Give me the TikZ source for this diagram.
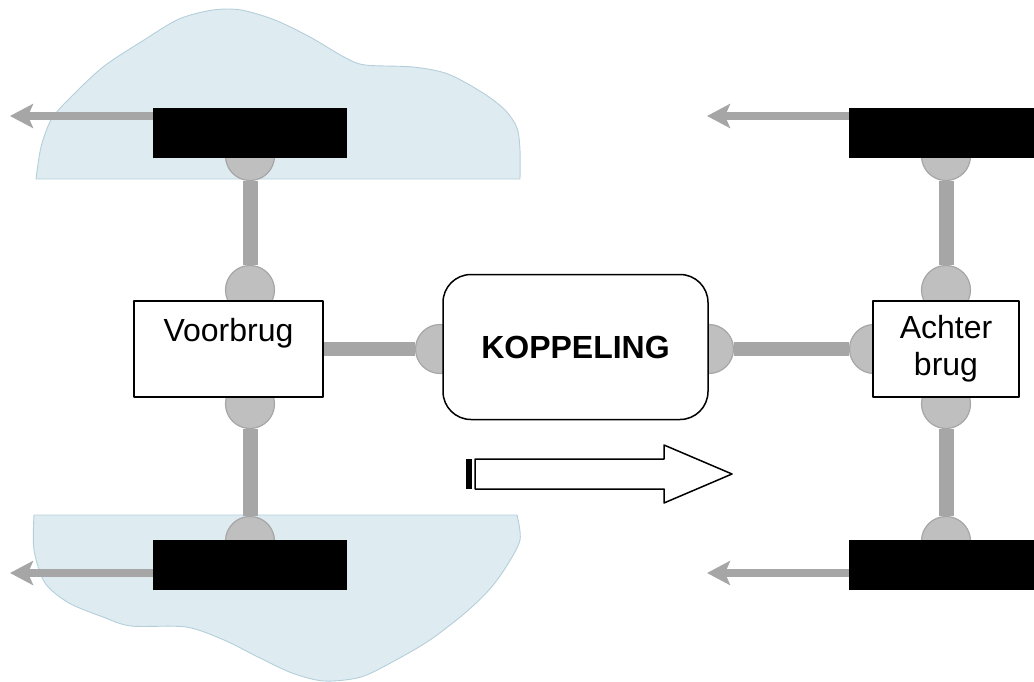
\documentclass[tikz,border=0pt]{standalone}
\usepackage{fontspec}
\setmainfont{Liberation Sans}
\usetikzlibrary{arrows.meta}
\definecolor{axlegray}{HTML}{A6A6A6}
\definecolor{pingray}{HTML}{BFBFBF}
\definecolor{icefill}{HTML}{DEEBF1}
\definecolor{iceline}{HTML}{B4CFDA}
\pgfdeclarelayer{ice}
\pgfdeclarelayer{axle}
\pgfsetlayers{ice,axle,main}
\tikzset{
	ice/.style={fill=icefill, draw=iceline, line width=0.9pt},
	pin/.style={circle, minimum size=49pt, inner sep=0pt, fill=pingray, draw=axlegray, line width=1.2pt},
	tire/.style={rectangle, minimum width=194pt, minimum height=50pt, inner sep=0pt, fill=black},
	bridge/.style={rectangle, draw, fill=white, line width=1.5pt, inner sep=0pt},
	bar/.style={axlegray, line width=15pt},
	drag/.style={axlegray, line width=8pt, -{Stealth[length=23pt, width=24pt, inset=5pt]}},
}
\begin{document}
\begin{tikzpicture}[x=1pt, y=-1pt, line join=round, font=\fontsize{32}{37}\selectfont]
				\useasboundingbox (0,0) rectangle (1034,682);
				\clip (0,0) rectangle (1034,682);
				% pins
				\node[pin] (pFL) at (250,156) {};
				\node[pin] (pVt) at (250,290) {};
				\node[pin] (pVb) at (250,404) {};
				\node[pin] (pRL) at (250,541) {};
				\node[pin] (pKl) at (440,349) {};
				\node[pin] (pKr) at (709,349) {};
				\node[pin] (pAl) at (874,349) {};
				\node[pin] (pFR) at (946,156) {};
				\node[pin] (pAt) at (946,290) {};
				\node[pin] (pAb) at (946,404) {};
				\node[pin] (pRR) at (946,541) {};
				% tires and bridges
				\node[tire] (tFL) at (250,133) {};
				\node[tire] (tRL) at (250,565) {};
				\node[tire] (tFR) at (946,133) {};
				\node[tire] (tRR) at (946,565) {};
				\node[bridge, minimum width=189pt, minimum height=96pt, text height=24pt, text depth=40pt] (voor) at (228.5,349) {Voorbrug};
				\node[bridge, minimum width=146pt, minimum height=96pt, align=center] (achter) at (946,349) {Achter\\brug};
				\node[bridge, rounded corners=28pt, minimum width=265pt, minimum height=145pt, font=\fontsize{32}{37}\selectfont\bfseries] (kop) at (575.5,347) {KOPPELING};
				% drag arrows
				\coordinate (dFL) at (10,116);
				\coordinate (dRL) at (10,573);
				\coordinate (dFR) at (707,116);
				\coordinate (dRR) at (707,573);
				\draw[drag] (tFL.west |- dFL) -- (dFL);
				\draw[drag] (tRL.west |- dRL) -- (dRL);
				\draw[drag] (tFR.west |- dFR) -- (dFR);
				\draw[drag] (tRR.west |- dRR) -- (dRR);
				% direction
				\draw[line width=1.5pt, fill=white] (475,459) -- (664,459) -- (664,445) -- (732,474) -- (664,503) -- (664,489) -- (475,489) -- cycle;
				\fill (466,459) rectangle (472,489);
				\begin{pgfonlayer}{axle}
					\draw[bar] (pFL) -- (pVt);
					\draw[bar] (pVb) -- (pRL);
					\draw[bar] (pFR) -- (pAt);
					\draw[bar] (pAb) -- (pRR);
					\draw[bar, line width=14pt] (voor.east) -- (pKl);
					\draw[bar, line width=14pt] (pKr) -- (pAl);
				\end{pgfonlayer}
				\begin{pgfonlayer}{ice}
					\draw[ice] plot[smooth] coordinates {(36,179) (41,147) (51,120) (68,100) (103,67) (144,40) (179,19) (213,10) (241,10) (275,20) (310,37) (344,57) (365,65) (413,67) (448,74) (483,93) (505,110) (517,128) (520,150) (520,179)} -- cycle;
					\draw[ice] plot[smooth] coordinates {(517,515) (520,540) (506,567) (489,590) (465,613) (430,640) (396,660) (361,677) (324,681) (292,673) (258,657) (224,640) (186,627) (131,626) (103,617) (69,603) (45,583) (34,550) (34,515)} -- cycle;
				\end{pgfonlayer}
			\end{tikzpicture}
\end{document}
